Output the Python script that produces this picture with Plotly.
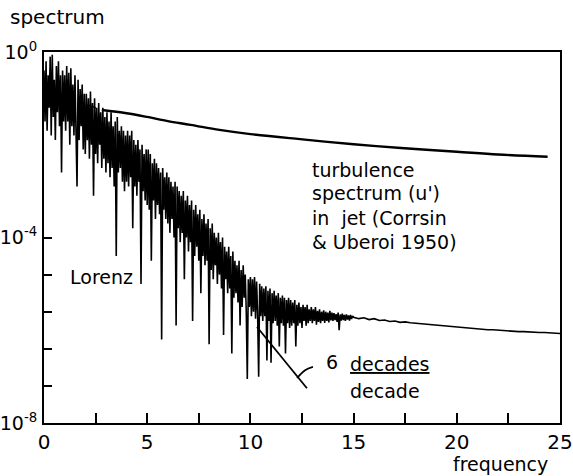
import plotly.graph_objects as go

lorenz_freq_a = [round(i * 0.05, 3) for i in range(301)]
lorenz_log_a = [
    # 0.00 - 0.95
    -0.4, -1.5, -0.2, -1.7, -0.5, -1.2, -0.1, -1.8, -0.06, -1.4,
    -0.6, -1.9, -0.3, -1.3, -0.2, -1.6, -0.5, -2.6, -0.4, -1.5,
    # 1.00 - 1.95
    -0.5, -1.7, -0.3, -1.5, -0.45, -2.0, -0.35, -1.6, -0.7, -1.8,
    -0.5, -1.4, -2.9, -0.6, -1.9, -0.8, -1.6, -0.7, -2.1, -0.9,
    # 2.00 - 2.95
    -2.2, -0.9, -1.9, -1.0, -2.3, -0.85, -2.0, -1.1, -3.1, -1.0,
    -2.2, -1.2, -2.4, -1.1, -2.0, -1.3, -2.5, -1.2, -2.3, -1.4,
    # 3.00 - 3.95
    -2.6, -1.3, -2.4, -1.5, -2.7, -1.3, -2.5, -1.6, -2.9, -1.5,
    -4.4, -1.4, -2.6, -1.7, -2.5, -1.6, -2.8, -1.7, -3.0, -1.8,
    # 4.00 - 4.95
    -2.8, -1.7, -2.9, -1.8, -2.7, -1.7, -3.8, -1.9, -2.9, -2.0,
    -3.1, -1.9, -2.8, -2.1, -5.0, -2.0, -3.0, -2.2, -3.2, -2.1,
    # 5.00 - 5.95
    -3.3, -2.1, -3.4, -2.2, -4.5, -2.4, -3.2, -2.3, -3.6, -2.4,
    -3.3, -2.5, -3.5, -2.6, -6.2, -2.5, -3.4, -2.7, -3.6, -2.6,
    # 6.00 - 6.95
    -3.7, -2.7, -3.9, -2.8, -3.6, -2.9, -4.0, -2.8, -5.9, -2.9,
    -3.8, -3.0, -4.1, -3.1, -3.9, -3.0, -4.9, -3.2, -4.0, -3.1,
    # 7.00 - 7.95
    -4.3, -3.3, -4.1, -3.2, -5.8, -3.4, -4.4, -3.3, -4.2, -3.5,
    -4.5, -3.4, -5.2, -3.6, -4.4, -3.5, -4.6, -3.7, -4.5, -3.6,
    # 8.00 - 8.95
    -6.3, -3.8, -4.7, -3.7, -4.9, -3.9, -4.6, -4.0, -5.0, -3.9,
    -4.8, -4.1, -5.1, -4.0, -6.1, -4.2, -4.9, -4.3, -5.2, -4.2,
    # 9.00 - 9.95
    -5.1, -4.4, -6.5, -4.3, -5.3, -4.5, -5.2, -4.6, -5.4, -4.5,
    -5.9, -4.7, -5.5, -4.6, -5.3, -4.8, -5.6, -7.05, -4.9, -5.5,
    # 10.00 - 10.95
    -4.85, -5.7, -4.9, -5.6, -4.85, -5.75, -4.95, -5.65, -7.0, -5.0,
    -5.7, -5.05, -5.8, -5.1, -5.7, -5.05, -6.65, -5.15, -5.8, -5.1,
    # 11.00 - 11.95
    -6.7, -5.2, -5.85, -5.15, -5.8, -5.25, -5.9, -5.2, -6.35, -5.3,
    -5.85, -5.25, -5.9, -5.3, -6.5, -5.35, -5.85, -5.3, -5.95, -5.35,
    # 12.00 - 12.95
    -5.9, -5.4, -5.85, -5.35, -6.35, -5.45, -5.9, -5.4, -5.85, -5.5,
    -5.95, -5.45, -5.8, -5.5, -5.9, -5.45, -5.85, -5.55, -5.8, -5.5,
    # 13.00 - 13.95
    -5.85, -5.55, -5.8, -5.5, -5.88, -5.58, -5.82, -5.55, -5.85, -5.6,
    -5.8, -5.57, -5.84, -5.6, -5.8, -5.62, -5.83, -5.58, -5.79, -5.62,
    # 14.00 - 14.95
    -5.8, -5.63, -5.78, -5.65, -5.82, -5.62, -6.0, -5.66, -5.79, -5.64,
    -5.78, -5.67, -5.8, -5.66, -5.77, -5.68, -5.79, -5.67, -5.76, -5.69,
    # 15.00
    -5.72,
]
lorenz_freq_b = [round(15.25 + i * 0.25, 2) for i in range(40)]
lorenz_log_b = [
    -5.75, -5.73, -5.77, -5.75, -5.79, -5.78, -5.81, -5.8, -5.83, -5.82,
    -5.84, -5.85, -5.87, -5.87, -5.89, -5.9, -5.91, -5.92, -5.93, -5.94,
    -5.95, -5.96, -5.97, -5.97, -5.98, -5.99, -5.99, -6.0, -6.01, -6.01,
    -6.02, -6.03, -6.03, -6.04, -6.04, -6.05, -6.05, -6.06, -6.06, -6.07,
]

turb_freq = [2.8, 4, 5, 6, 7.1, 8.5, 10, 12.4, 15, 17.3, 20, 22, 24.4]
turb_log = [-1.25, -1.32, -1.40, -1.49, -1.57, -1.68, -1.77, -1.88, -1.99,
            -2.07, -2.15, -2.21, -2.26]
turb_dash_freq = [2.1, 2.8]
turb_dash_log = [-1.14, -1.25]

slope_freq = [10.32, 12.74]
slope_log = [-5.93, -7.25]
leader_freq = [13.03, 12.65, 12.26]
leader_log = [-6.79, -6.86, -7.03]

x_tick_vals = [0, 2.5, 5, 7.5, 10, 12.5, 15, 17.5, 20, 22.5, 25]
x_tick_text = ["0", "", "5", "", "10", "", "15", "", "20", "", "25"]
y_tick_logs = [0, -4, -4.8, -5.6, -6.4, -7.2, -8]
y_tick_text = ["10<sup>0</sup>", "10<sup>-4</sup>", "", "", "", "", "10<sup>-8</sup>"]

FONT = "DejaVu Sans"

def p10(v):
    return [10 ** a for a in v]

fig = go.Figure()
fig.add_trace(go.Scatter(x=lorenz_freq_a + lorenz_freq_b, y=p10(lorenz_log_a + lorenz_log_b),
                         mode="lines", line=dict(color="black", width=1.6)))
fig.add_trace(go.Scatter(x=turb_freq, y=p10(turb_log), mode="lines",
                         line=dict(color="black", width=2.4, shape="spline")))
fig.add_trace(go.Scatter(x=turb_dash_freq, y=p10(turb_dash_log), mode="lines",
                         line=dict(color="black", width=1.5, dash="dash")))
fig.add_trace(go.Scatter(x=slope_freq, y=p10(slope_log), mode="lines",
                         line=dict(color="black", width=1.8)))
fig.add_trace(go.Scatter(x=leader_freq, y=p10(leader_log), mode="lines",
                         line=dict(color="black", width=1.8, shape="spline")))

ann_font = dict(family=FONT, size=19, color="black")
anns = [
    dict(x=1.16, y=-4.85, text="Lorenz", xanchor="left"),
    dict(x=12.89, y=-2.54, text="turbulence", xanchor="left"),
    dict(x=12.89, y=-3.04, text="spectrum (u')", xanchor="left"),
    dict(x=12.89, y=-3.58, text="in  jet (Corrsin", xanchor="left"),
    dict(x=12.89, y=-4.10, text="& Uberoi 1950)", xanchor="left"),
    dict(x=13.95, y=-6.68, text="6", xanchor="center"),
    dict(x=14.73, y=-6.73, text="<u>decades</u>", xanchor="left"),
    dict(x=14.73, y=-7.31, text="decade", xanchor="left"),
]
for a in anns:
    a.update(xref="x", yref="y", showarrow=False, yanchor="middle", font=ann_font)
anns.append(dict(x=0.884, y=-0.11, xref="paper", yref="paper", text="frequency",
                 showarrow=False, xanchor="center", yanchor="middle", font=ann_font))
anns.append(dict(x=-0.07, y=1.094, xref="paper", yref="paper", text="spectrum",
                 showarrow=False, xanchor="left", yanchor="middle",
                 font=dict(family=FONT, size=20, color="black")))

fig.update_layout(
    width=573, height=476,
    margin=dict(l=44, r=13, t=52, b=53),
    plot_bgcolor="white", paper_bgcolor="white",
    showlegend=False,
    font=dict(family=FONT, color="black"),
    annotations=anns,
)
fig.update_xaxes(range=[0, 25], tickvals=x_tick_vals, ticktext=x_tick_text,
                 ticks="inside", ticklen=10, tickwidth=1.5, tickcolor="black",
                 showline=True, linewidth=2, linecolor="black", mirror=True,
                 showgrid=False, zeroline=False, automargin=False,
                 ticklabeloverflow="allow",
                 tickfont=dict(family=FONT, size=20, color="black"))
fig.update_yaxes(type="log", range=[-8, 0], tickvals=p10(y_tick_logs), ticktext=y_tick_text,
                 ticks="inside", ticklen=8, tickwidth=1.5, tickcolor="black",
                 showline=True, linewidth=2, linecolor="black", mirror=True,
                 showgrid=False, zeroline=False, ticklabelstandoff=1, automargin=False,
                 ticklabeloverflow="allow",
                 tickfont=dict(family=FONT, size=19, color="black"))

fig.write_html("out.html")
